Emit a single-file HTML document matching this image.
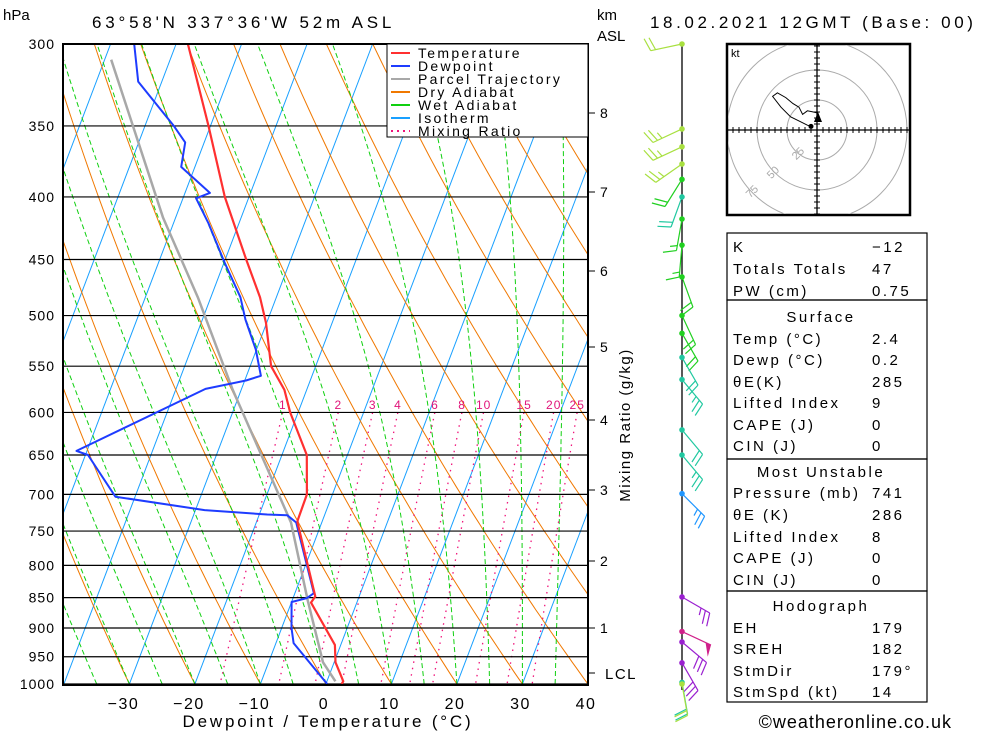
<!DOCTYPE html>
<html><head><meta charset="utf-8">
<style>
html,body{margin:0;padding:0;background:#fff;}
svg{display:block;font-family:"Liberation Sans",sans-serif;}
</style></head>
<body>
<svg id="c" width="1000" height="733" viewBox="0 0 1000 733" xmlns="http://www.w3.org/2000/svg">
<defs><clipPath id="plotclip"><rect x="63" y="44" width="525" height="641"/></clipPath>
<clipPath id="hodoclip"><rect x="728" y="45" width="181" height="169"/></clipPath></defs>
<g id="bg" clip-path="url(#plotclip)"></g>
<g id="series" clip-path="url(#plotclip)"></g>
<g id="axes"></g>
<g id="winds"></g>
<g id="hodo"></g>
<g id="tbl"></g>
</svg>
<script>
// ---- data ----
const tempP = [300,350,400,450,483,507,550,575,600,650,700,735,738,848,858,929,960,995,1000];
const tempT = [-58.2,-50.3,-43.7,-36.8,-32.5,-30.1,-26.8,-23.4,-21.2,-16.2,-13.9,-13.8,-13.7,-6.7,-7.0,-0.9,0.2,2.5,2.4];
const dewP = [300,322,350,361,378,397,401,420,452,483,504,533,560,565,574,645,650,703,721,727,728,738,843,851,857,900,926,1000];
const dewT = [-66.4,-63.6,-55.6,-52.9,-52.1,-46.2,-48,-44.7,-40,-35.5,-33.4,-30.1,-27.8,-29.8,-35.5,-51.6,-49.6,-43,-28.6,-18.8,-15.7,-13.9,-7.1,-7.9,-10,-8.5,-7.3,0.2];
const parcelP = [309,416,483,575,738,855,960,995];
const parcelT = [-69,-51.9,-42,-31.3,-14.7,-7.6,-1.7,1.3];
const pLevels = [300,350,400,450,500,550,600,650,700,750,800,850,900,950,1000];
const xTicks = [-30,-20,-10,0,10,20,30,40];
const kmLabels = ['8','7','6','5','4','3','2','1'];
const kmY = [113,192,271,347,420,490,561,628];
const mixRatios = [1,2,3,4,6,8,10,15,20,25];
const windP = [300,352,364,376,387,400,417,438,465,500,517,541,564,620,650,699,849,906,924,961,997,1000];
const windDir = [258,245,245,235,212,200,190,185,160,155,150,150,140,140,140,135,120,115,130,150,170,170];
const windSpd = [20,25,25,25,20,20,15,15,20,20,20,20,25,20,25,25,25,50,30,30,20,20];
const windCol = ['#a8e040','#a8e040','#a8e040','#a8e040','#20d020','#20c8a0','#20d020','#20d020','#20d020','#20d020','#20d020','#20c8a0','#20c8a0','#20c8a0','#20c8a0','#1e96ff','#9a20d0','#d0208a','#9a20d0','#9a20d0','#20c8a0','#a8e040'];
const hodoU = [1,-3,-8,-12,-15,-20,-26,-33,-37,-30,-22,-14,-8,-5];
const hodoV = [14,15,16,13,19,22,27,31,28,19,11,7,4,3];
const tableRows = [
 ['K','−12',246],['Totals Totals','47',268],['PW (cm)','0.75',290],
 ['Surface',null,316],['Temp (°C)','2.4',338],['Dewp (°C)','0.2',359],['θE(K)','285',381],['Lifted Index','9',402],['CAPE (J)','0',424],['CIN (J)','0',445],
 ['Most Unstable',null,471],['Pressure (mb)','741',492],['θE (K)','286',514],['Lifted Index','8',536],['CAPE (J)','0',557],['CIN (J)','0',579],
 ['Hodograph',null,605],['EH','179',627],['SREH','182',648],['StmDir','179°',670],['StmSpd (kt)','14',691]];

// ---- scales ----
const NS='http://www.w3.org/2000/svg';
const Y0=44, Y1=684, LR=Math.log(1000/300);
function yP(p){return Y0+(Math.log(p/300)/LR)*(Y1-Y0);}
function xT(T,y){return 324+6.55*T+0.38*(689-y);}
function el(tag,attrs,parent){const e=document.createElementNS(NS,tag);for(const k in attrs)e.setAttribute(k,attrs[k]);parent.appendChild(e);return e;}
function txt(s,attrs,parent){const e=el('text',attrs,parent);e.textContent=s;return e;}
const bg=document.getElementById('bg'),ser=document.getElementById('series'),ax=document.getElementById('axes');

for(let T=-110;T<=40;T+=10){
 const l=el('line',{x1:xT(T,689),y1:689,x2:xT(T,44),y2:44,stroke:'#19a0ff','stroke-width':1},bg);
 
 
}
for(let t=-60;t<=200;t+=10){
 const th=t+273.15;let pts=[];
 for(let p=1000;p>=300;p-=10){const T=th*Math.pow(p/1000,0.286)-273.15;const y=yP(p);pts.push(xT(T,y).toFixed(1)+','+y.toFixed(1));}
 const l=el('polyline',{points:pts.join(' '),fill:'none',stroke:'#f07800','stroke-width':1},bg);
 
 
}
function es(Tc){return 6.112*Math.exp(17.67*Tc/(Tc+243.5));}
for(let t0=-40;t0<=35;t0+=5){
 let T=t0+273.15,pts=[];
 for(let p=1000;p>=300;p-=5){
  const y=yP(p);pts.push(xT(T-273.15,y).toFixed(1)+','+y.toFixed(1));
  const e=es(T-273.15),rs=0.622*e/(p-e);
  const d=(287*T+2.5e6*rs)/(p*(1004+2.5e6*2.5e6*rs*0.622/(287*T*T)));
  T-=d*5;
 }
 const l=el('polyline',{points:pts.join(' '),fill:'none',stroke:'#10d010','stroke-width':1,'stroke-dasharray':'5,3'},bg);
 
 
}
function tdw(w,p){const e=w*p/(622+w),a=Math.log(e/6.112);const Td=243.5*a/(17.67-a);return Td+0.8+(Td+21)*0.047;}
mixRatios.forEach(w=>{
 let pts=[];
 for(let p=600;p<=1000;p+=10){const y=yP(p);pts.push(xT(tdw(w,p),y).toFixed(1)+','+y.toFixed(1));}
 const l=el('polyline',{points:pts.join(' '),fill:'none',stroke:'#f0147a','stroke-width':1.3,'stroke-dasharray':'1.5,5'},bg);
 
 
 const lb=txt(String(w),{x:xT(tdw(w,600),412),y:409,'font-size':12,fill:'#e0147a','text-anchor':'middle','letter-spacing':1},ax);
 
 
});
pLevels.forEach(p=>{
 const y=yP(p);
 const l=el('line',{x1:63,y1:y,x2:588,y2:y,stroke:'#000','stroke-width':1.2},bg);
 
 
 const t=txt(String(p),{x:55,y:y+5,'font-size':14,'text-anchor':'end','letter-spacing':1},ax);
 
 
});
function prof(P,T,col,w,name){
 const pts=P.map((p,i)=>{const y=yP(p);return xT(T[i],y).toFixed(1)+','+y.toFixed(1);});
 const l=el('polyline',{points:pts.join(' '),fill:'none',stroke:col,'stroke-width':w,'stroke-linejoin':'round'},ser);
 
 
}
prof(parcelP,parcelT,'#a8a8a8',2.5,'parcel-trajectory-line');
prof(dewP,dewT,'#1e3cff',2,'dewpoint-line');
prof(tempP,tempT,'#ff3030',2.2,'temperature-line');

let f=el('rect',{x:63,y:44,width:525,height:641,fill:'none',stroke:'#000','stroke-width':2},ax);

xTicks.forEach(T=>{
 const t=txt((T<0?'−':'')+Math.abs(T),{x:xT(T,689)-(T<0?4:0),y:709,'font-size':16,'text-anchor':'middle','letter-spacing':1.5},ax);
 
 
});
let xt=txt('Dewpoint / Temperature (°C)',{x:328,y:727,'font-size':17,'text-anchor':'middle','letter-spacing':2.8},ax);

kmLabels.forEach((k,i)=>{
 el('line',{x1:588,y1:kmY[i],x2:595,y2:kmY[i],stroke:'#000'},ax);
 const t=txt(k,{x:600,y:kmY[i]+5,'font-size':14},ax);
 
 
});
el('line',{x1:588,y1:673,x2:595,y2:673,stroke:'#000'},ax);
let lcl=txt('LCL',{x:605,y:679,'font-size':15,'letter-spacing':1.5},ax);

let mr=txt('Mixing Ratio (g/kg)',{x:0,y:0,'font-size':15,'text-anchor':'middle','letter-spacing':1.5,transform:'translate(630,425) rotate(-90)'},ax);

let h=txt('hPa',{x:3,y:20,'font-size':15},ax);
let tl=txt("63°58'N 337°36'W 52m ASL",{x:92,y:28,'font-size':17,'letter-spacing':3.8},ax);
let km=txt('km',{x:597,y:20,'font-size':15},ax);
let asl=txt('ASL',{x:597,y:41,'font-size':15},ax);
let dt=txt('18.02.2021 12GMT (Base: 00)',{x:650,y:28,'font-size':17,'letter-spacing':3.6},ax);
let cp=txt('©weatheronline.co.uk',{x:952,y:728,'font-size':18,'text-anchor':'end','letter-spacing':1},ax);

const lg=el('g',{},ax);
el('rect',{x:387,y:44,width:201,height:93,fill:'#fff',stroke:'#000','stroke-width':1},lg);
[['Temperature','#ff3030',''],['Dewpoint','#1e3cff',''],['Parcel Trajectory','#a8a8a8',''],['Dry Adiabat','#f07800',''],['Wet Adiabat','#10d010',''],['Isotherm','#19a0ff',''],['Mixing Ratio','#f0147a','2,4']].forEach((e,i)=>{
 const y=53+i*13;
 const g=el('g',{},lg);
 
 
 el('line',{x1:391,y1:y,x2:410,y2:y,stroke:e[1],'stroke-width':2,'stroke-dasharray':e[2]||'none'},g);
 txt(e[0],{x:418,y:y+5,'font-size':14,'letter-spacing':2.3},g);
});

const wg=document.getElementById('winds');
el('line',{x1:682,y1:44,x2:682,y2:690,stroke:'#000','stroke-width':1.3},wg);
windP.forEach((p,i)=>{
 const y=yP(p),x=682,c=windCol[i],a=windDir[i]*Math.PI/180;
 const g=el('g',{},wg);
 
 
 const dx=Math.sin(a),dy=-Math.cos(a),L=32;
 const ex=x+dx*L,ey=y+dy*L;
 el('line',{x1:x,y1:y,x2:ex,y2:ey,stroke:c,'stroke-width':1.2},g);
 const px=-dy,py=dx;
 let s=windSpd[i],k=0;
 while(s>=50){const bx=ex-dx*k*6,by=ey-dy*k*6;el('polygon',{points:`${bx},${by} ${bx+px*12+dx*2},${by+py*12+dy*2} ${bx-dx*6},${by-dy*6}`,fill:c},g);s-=50;k+=1.5;}
 while(s>=10){const bx=ex-dx*k*5,by=ey-dy*k*5;el('line',{x1:bx,y1:by,x2:bx+px*13+dx*4,y2:by+py*13+dy*4,stroke:c,'stroke-width':1.2},g);s-=10;k++;}
 if(s>=5){const bx=ex-dx*k*5,by=ey-dy*k*5;el('line',{x1:bx,y1:by,x2:bx+px*7+dx*2,y2:by+py*7+dy*2,stroke:c,'stroke-width':1.2},g);}
 el('circle',{cx:x,cy:y,r:2.8,fill:c},g);
});

const hg=document.getElementById('hodo');
el('rect',{x:727,y:44,width:183,height:171,fill:'#fff',stroke:'#000','stroke-width':2.5},hg);
const hc=el('g',{'clip-path':'url(#hodoclip)'},hg);
const HX=817,HY=130,HS=1.2;
[25,50,75].forEach(r=>el('circle',{cx:HX,cy:HY,r:r*HS,fill:'none',stroke:'#aaa'},hc));
el('line',{x1:728,y1:HY,x2:909,y2:HY,stroke:'#000','stroke-width':1.3},hc);
el('line',{x1:HX,y1:45,x2:HX,y2:214,stroke:'#000','stroke-width':1.3},hc);
for(let i=-15;i<=15;i++){if(!i)continue;el('line',{x1:HX+i*6,y1:HY-3,x2:HX+i*6,y2:HY+3,stroke:'#000'},hc);el('line',{x1:HX-3,y1:HY+i*6,x2:HX+3,y2:HY+i*6,stroke:'#000'},hc);}
txt('25',{x:792,y:158,'font-size':11,fill:'#aaa',transform:'rotate(-45 797 154)'},hc);
txt('50',{x:767,y:177,'font-size':11,fill:'#aaa',transform:'rotate(-45 772 173)'},hc);
txt('75',{x:746,y:196,'font-size':11,fill:'#aaa',transform:'rotate(-45 751 192)'},hc);
txt('kt',{x:731,y:57,'font-size':11},hc);
const hp=hodoU.map((u,i)=>(HX+u*HS).toFixed(1)+','+(HY-hodoV[i]*HS).toFixed(1)).join(' ');
let hl=el('polyline',{points:hp,fill:'none',stroke:'#000','stroke-width':1},hc);

el('polygon',{points:`${HX-3},${HY-8} ${HX+5},${HY-8} ${HX+1},${HY-18}`,fill:'#000'},hc);
el('circle',{cx:HX+hodoU[hodoU.length-1]*HS,cy:HY-hodoV[hodoV.length-1]*HS,r:2.5,fill:'#000'},hc);

const tg=document.getElementById('tbl');
[[233,300],[300,459],[459,591],[591,702]].forEach(b=>el('rect',{x:727,y:b[0],width:200,height:b[1]-b[0],fill:'none',stroke:'#000','stroke-width':1.2},tg));
tableRows.forEach(r=>{
 const g=el('g',{},tg);
 
 
 if(r[1]===null){txt(r[0],{x:821,y:r[2]+6,'font-size':15,'text-anchor':'middle','letter-spacing':2.5},g);}
 else{txt(r[0],{x:733,y:r[2]+6,'font-size':15,'letter-spacing':2.5},g);txt(r[1],{x:872,y:r[2]+6,'font-size':15,'letter-spacing':2.5},g);}
});
</script>
</body></html>
